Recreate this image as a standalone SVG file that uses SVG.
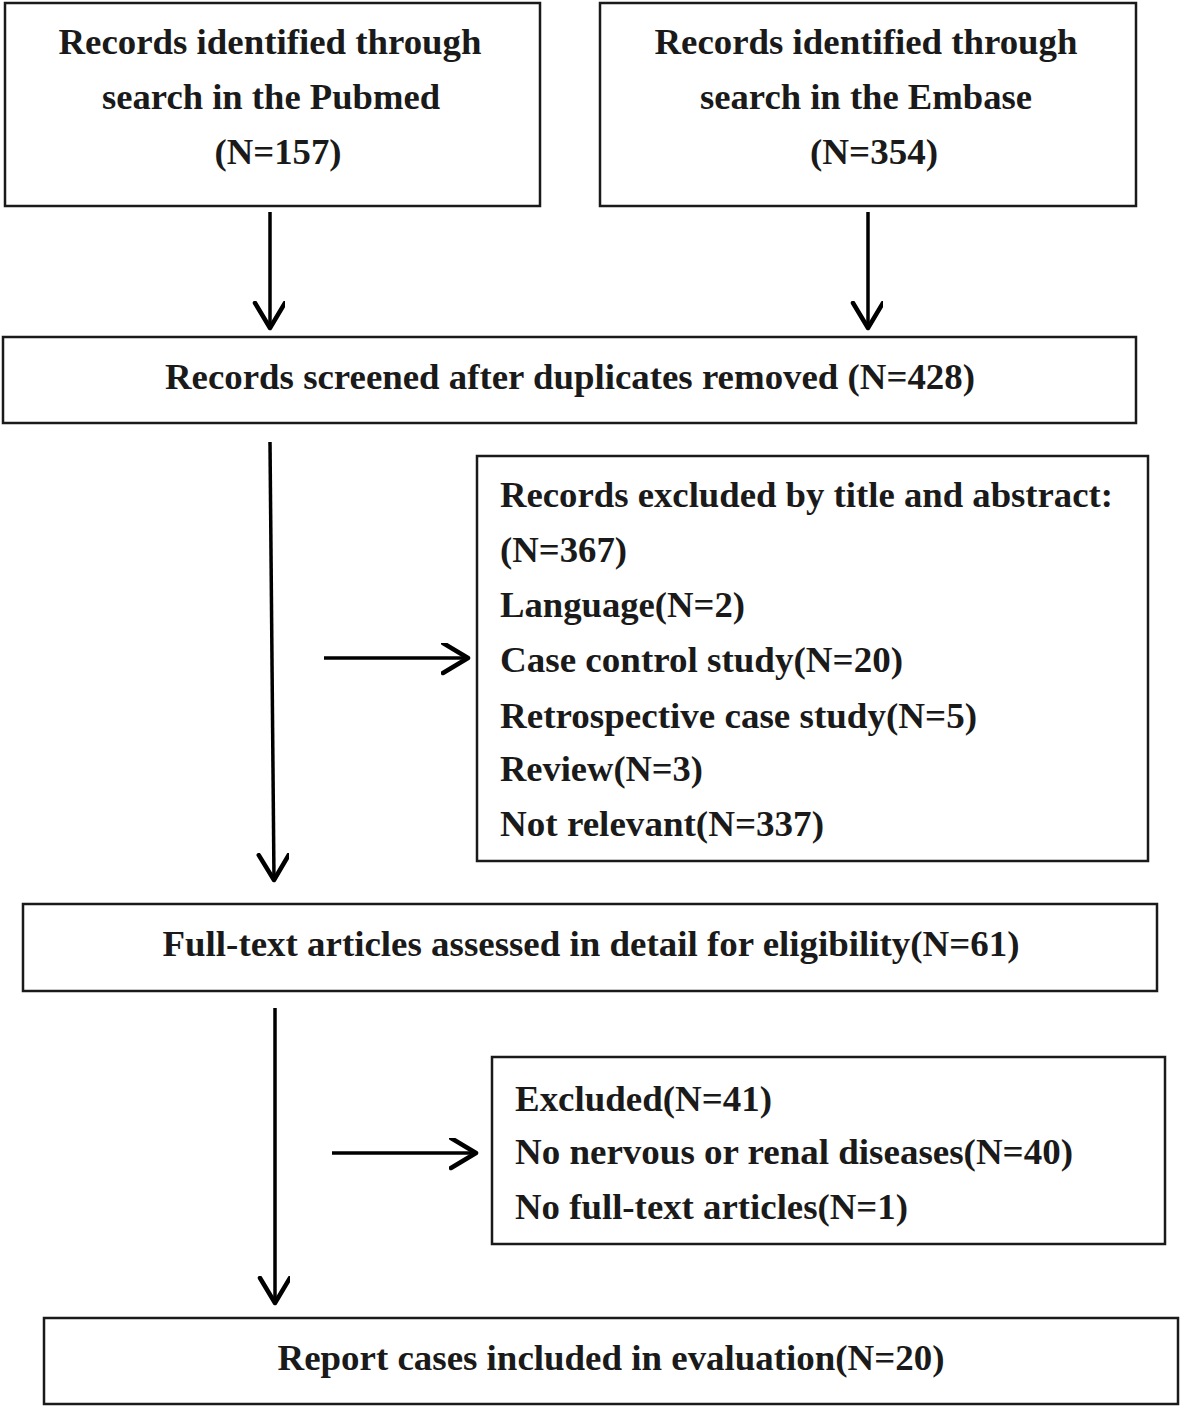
<svg xmlns="http://www.w3.org/2000/svg" width="1181" height="1408" viewBox="0 0 1181 1408">
<style>
rect{fill:#fff;stroke:#1a1a1a;stroke-width:2.5}
text{font-family:"Liberation Serif","Times New Roman",serif;font-weight:bold;font-size:36px;fill:#1a1a1a}
.c{text-anchor:middle}
.con line{stroke:#000;stroke-width:3.5;fill:none}
</style>
<defs>
<marker id="ah" markerWidth="32" markerHeight="40" refX="27" refY="15" orient="auto" markerUnits="userSpaceOnUse">
<path d="M2,0 L27,15 L2,30" fill="none" stroke="#000" stroke-width="4.5" stroke-linecap="round" stroke-linejoin="round"/>
</marker>
</defs>
<rect width="1181" height="1408" style="fill:#fff;stroke:none"/>
<g id="pubmed">
<rect x="5" y="3" width="535" height="203"/>
<text x="270" y="54" class="c" textLength="423" lengthAdjust="spacingAndGlyphs">Records identified through</text>
<text x="271" y="109" class="c" textLength="338" lengthAdjust="spacingAndGlyphs">search in the Pubmed</text>
<text x="278" y="164" class="c" textLength="127" lengthAdjust="spacingAndGlyphs">(N=157)</text>
</g>
<g id="embase">
<rect x="600" y="3" width="536" height="203"/>
<text x="866" y="54" class="c" textLength="423" lengthAdjust="spacingAndGlyphs">Records identified through</text>
<text x="866" y="109" class="c" textLength="332" lengthAdjust="spacingAndGlyphs">search in the Embase</text>
<text x="874" y="164" class="c" textLength="128" lengthAdjust="spacingAndGlyphs">(N=354)</text>
</g>
<g id="screened">
<rect x="3" y="337" width="1133" height="86"/>
<text x="570" y="389" class="c" textLength="810" lengthAdjust="spacingAndGlyphs">Records screened after duplicates removed (N=428)</text>
</g>
<g id="excluded1">
<rect x="477" y="456" width="671" height="405"/>
<text x="500" y="507" textLength="613" lengthAdjust="spacingAndGlyphs">Records excluded by title and abstract:</text>
<text x="500" y="562" textLength="127" lengthAdjust="spacingAndGlyphs">(N=367)</text>
<text x="500" y="617" textLength="245" lengthAdjust="spacingAndGlyphs">Language(N=2)</text>
<text x="500" y="672" textLength="403" lengthAdjust="spacingAndGlyphs">Case control study(N=20)</text>
<text x="500" y="728" textLength="477" lengthAdjust="spacingAndGlyphs">Retrospective case study(N=5)</text>
<text x="500" y="781" textLength="203" lengthAdjust="spacingAndGlyphs">Review(N=3)</text>
<text x="500" y="836" textLength="324" lengthAdjust="spacingAndGlyphs">Not relevant(N=337)</text>
</g>
<g id="fulltext">
<rect x="23" y="904" width="1134" height="87"/>
<text x="591" y="956" class="c" textLength="857" lengthAdjust="spacingAndGlyphs">Full-text articles assessed in detail for eligibility(N=61)</text>
</g>
<g id="excluded2">
<rect x="492" y="1057" width="673" height="187"/>
<text x="515" y="1111" textLength="257" lengthAdjust="spacingAndGlyphs">Excluded(N=41)</text>
<text x="515" y="1164" textLength="558" lengthAdjust="spacingAndGlyphs">No nervous or renal diseases(N=40)</text>
<text x="515" y="1219" textLength="393" lengthAdjust="spacingAndGlyphs">No full-text articles(N=1)</text>
</g>
<g id="included">
<rect x="44" y="1318" width="1134" height="86"/>
<text x="611" y="1370" class="c" textLength="667" lengthAdjust="spacingAndGlyphs">Report cases included in evaluation(N=20)</text>
</g>
<g class="con" id="connectors">
<line x1="270" y1="212" x2="270" y2="328" marker-end="url(#ah)"/>
<line x1="868" y1="212" x2="868" y2="328" marker-end="url(#ah)"/>
<line x1="270" y1="442" x2="274" y2="880" marker-end="url(#ah)"/>
<line x1="324" y1="658" x2="468" y2="658" marker-end="url(#ah)"/>
<line x1="275" y1="1008" x2="275" y2="1303" marker-end="url(#ah)"/>
<line x1="332" y1="1153" x2="476" y2="1153" marker-end="url(#ah)"/>
</g>
</svg>
